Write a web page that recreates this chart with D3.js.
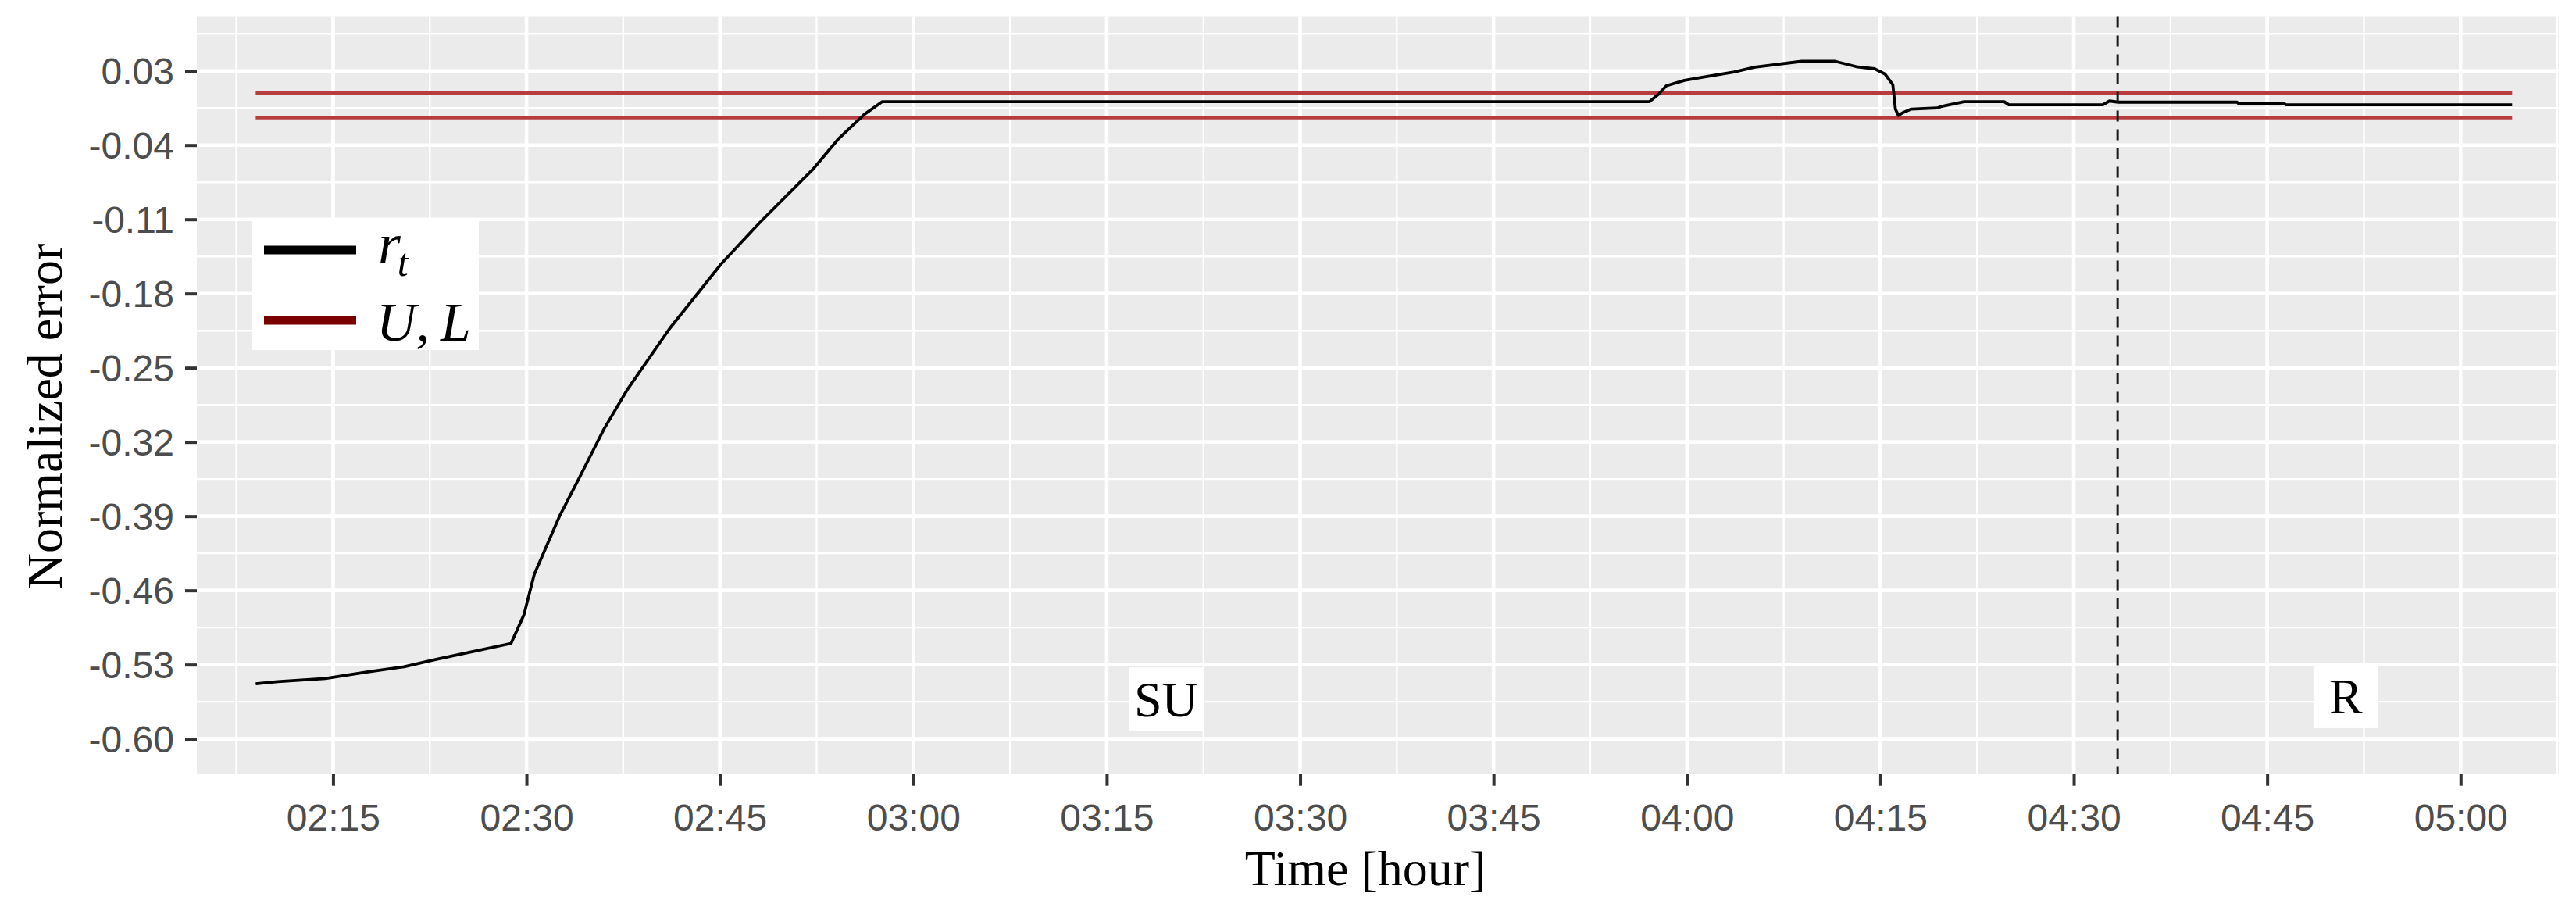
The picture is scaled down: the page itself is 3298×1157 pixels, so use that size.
<!DOCTYPE html>
<html>
<head>
<meta charset="utf-8">
<script src="https://cdn.jsdelivr.net/npm/d3@7"></script>
<style>
  html, body { margin: 0; padding: 0; background: #ffffff; }
  svg { display: block; }
</style>
</head>
<body>
<svg id="chart" width="3298" height="1157"></svg>
<script>
// ---------------- data ----------------
const xTickLabels = ["02:15","02:30","02:45","03:00","03:15","03:30","03:45","04:00","04:15","04:30","04:45","05:00"];
const yTickValues = [0.03, -0.04, -0.11, -0.18, -0.25, -0.32, -0.39, -0.46, -0.53, -0.60];

const rtTime = ["02:09:00","02:10:42","02:14:24","02:17:36","02:20:30","02:23:00","02:25:42","02:28:48",
  "02:29:48","02:30:36","02:32:36","02:34:00","02:36:00","02:37:48","02:41:06","02:45:06","02:48:06",
  "02:52:12","02:54:12","02:56:12","02:57:36","03:57:06","03:57:48","03:58:24","03:59:48","04:01:12",
  "04:03:39","04:05:16","04:06:53","04:08:54","04:11:30","04:13:08","04:14:33","04:15:22","04:15:58",
  "04:16:10","04:16:24","04:16:48","04:17:24","04:19:24","04:19:46","04:21:30","04:24:36","04:24:58",
  "04:32:15","04:32:46","04:33:27","04:42:40","04:42:47","04:46:18","04:46:30","05:04:00"];
const rtValue = [-0.548,-0.546,-0.543,-0.537,-0.532,-0.525,-0.518,-0.510,
  -0.483,-0.445,-0.389,-0.356,-0.308,-0.271,-0.213,-0.152,-0.113,
  -0.063,-0.034,-0.011,0.001,0.001,0.008,0.016,0.021,0.024,
  0.029,0.0335,0.036,0.039,0.039,0.034,0.032,0.027,0.017,
  -0.006,-0.012,-0.009,-0.006,-0.005,-0.0034,0.001,0.001,-0.002,
  -0.002,0.0016,0.0005,0.0005,-0.001,-0.001,-0.002,-0.002];

const boundTime = ["02:09:00", "05:04:00"];
const upperBound = 0.009;
const lowerBound = -0.014;

const changeTime = "04:33:24";
const regionLabels = ["SU", "R"];
const regionTime = ["03:19:36", "04:51:06"];
const regionValue = [-0.5625, -0.560];

const legendLabels = ["r", "U, L"];

// ---------------- scales ----------------
const parseT = d3.timeParse("%H:%M:%S");
const parseHM = d3.timeParse("%H:%M");
const svg = d3.select("#chart");
const W = 3298, H = 1157;
const panel = {left: 252, right: 3276, top: 21.5, bottom: 990.7};

const x = d3.scaleTime()
  .domain([parseT("02:04:26"), parseT("05:07:37")])
  .range([panel.left, panel.right]);
const y = d3.scaleLinear()
  .domain([-0.6332, 0.081])
  .range([panel.bottom, panel.top]);

svg.append("rect").attr("width", W).attr("height", H).attr("fill", "#ffffff");

// panel
svg.append("rect")
  .attr("x", panel.left).attr("y", panel.top)
  .attr("width", panel.right - panel.left).attr("height", panel.bottom - panel.top)
  .attr("fill", "#EBEBEB");

const xMajor = xTickLabels.map(parseHM);
const halfStep = 7.5 * 60 * 1000;
const xMinor = xMajor.map(d => new Date(d.getTime() - halfStep));
xMinor.push(new Date(xMajor[xMajor.length - 1].getTime() + halfStep));

const yStep = yTickValues[0] - yTickValues[1];
const yMinor = yTickValues.map(v => v + yStep / 2);
yMinor.push(yTickValues[yTickValues.length - 1] - yStep / 2);

const grid = svg.append("g");
const inX = d => x(d) >= panel.left - 0.5 && x(d) <= panel.right + 0.5;
const inY = v => y(v) >= panel.top - 0.5 && y(v) <= panel.bottom + 0.5;

grid.selectAll(".ymin").data(yMinor.filter(inY)).join("line")
  .attr("x1", panel.left).attr("x2", panel.right)
  .attr("y1", d => y(d)).attr("y2", d => y(d))
  .attr("stroke", "#ffffff").attr("stroke-width", 2.4);
grid.selectAll(".xmin").data(xMinor.filter(inX)).join("line")
  .attr("y1", panel.top).attr("y2", panel.bottom)
  .attr("x1", d => x(d)).attr("x2", d => x(d))
  .attr("stroke", "#ffffff").attr("stroke-width", 2.4);
grid.selectAll(".ymaj").data(yTickValues).join("line")
  .attr("x1", panel.left).attr("x2", panel.right)
  .attr("y1", d => y(d)).attr("y2", d => y(d))
  .attr("stroke", "#ffffff").attr("stroke-width", 4.6);
grid.selectAll(".xmaj").data(xMajor).join("line")
  .attr("y1", panel.top).attr("y2", panel.bottom)
  .attr("x1", d => x(d)).attr("x2", d => x(d))
  .attr("stroke", "#ffffff").attr("stroke-width", 4.6);

// bounds
const bT = boundTime.map(parseT);
[upperBound, lowerBound].forEach(v => {
  svg.append("line")
    .attr("x1", x(bT[0])).attr("x2", x(bT[1]))
    .attr("y1", y(v)).attr("y2", y(v))
    .attr("stroke", "#B83C3E").attr("stroke-width", 4.5);
});

// rt line
const rtData = rtTime.map((t, i) => ({t: parseT(t), v: rtValue[i]}));
svg.append("path")
  .datum(rtData)
  .attr("d", d3.line().x(d => x(d.t)).y(d => y(d.v)))
  .attr("fill", "none").attr("stroke", "#000000").attr("stroke-width", 3.8)
  .attr("stroke-linejoin", "round");

// vertical dashed line
svg.append("line")
  .attr("x1", x(parseT(changeTime))).attr("x2", x(parseT(changeTime)))
  .attr("y1", panel.top).attr("y2", panel.bottom)
  .attr("stroke", "#1a1a1a").attr("stroke-width", 3)
  .attr("stroke-dasharray", "14,10");

// region labels
regionLabels.forEach((lab, i) => {
  const g = svg.append("g");
  const cx = x(parseT(regionTime[i])), cy = y(regionValue[i]);
  const rect = g.append("rect").attr("fill", "#ffffff");
  const txt = g.append("text")
    .attr("x", cx).attr("y", cy + 22)
    .attr("text-anchor", "middle")
    .style("font-family", "'Liberation Serif', 'Times New Roman', serif")
    .style("font-size", "64px").attr("fill", "#000")
    .text(lab);
  const bb = txt.node().getBBox();
  const bw = Math.max(bb.width + 14, 83), bh = 81;
  rect.attr("x", cx - bw / 2).attr("y", cy - bh / 2).attr("width", bw).attr("height", bh);
});

// axes
const yAxis = d3.axisLeft(y).tickValues(yTickValues).tickFormat(d => d.toFixed(2))
  .tickSize(15).tickPadding(14);
const gy = svg.append("g").attr("transform", `translate(${panel.left},0)`).call(yAxis);
gy.select(".domain").remove();
gy.selectAll(".tick line").attr("stroke", "#333333").attr("stroke-width", 4);
gy.selectAll(".tick text")
  .attr("fill", "#4D4D4D")
  .attr("dy", "0.36em")
  .style("font-family", "'Liberation Sans', Arial, sans-serif")
  .style("font-size", "48px");

const xAxis = d3.axisBottom(x).tickValues(xMajor).tickFormat(d3.timeFormat("%H:%M"))
  .tickSize(15);
const gx = svg.append("g").attr("transform", `translate(0,${panel.bottom})`).call(xAxis);
gx.select(".domain").remove();
gx.selectAll(".tick line").attr("stroke", "#333333").attr("stroke-width", 4);
gx.selectAll(".tick text")
  .attr("fill", "#4D4D4D")
  .attr("y", 72).attr("dy", 0)
  .style("font-family", "'Liberation Sans', Arial, sans-serif")
  .style("font-size", "48px");

// titles
svg.append("text")
  .attr("x", (panel.left + panel.right) / 2 - 16).attr("y", 1133)
  .attr("text-anchor", "middle")
  .style("font-family", "'Liberation Serif', 'Times New Roman', serif")
  .style("font-size", "64px").attr("fill", "#000")
  .text("Time [hour]");
svg.append("text")
  .attr("transform", "translate(79,533) rotate(-90)")
  .attr("text-anchor", "middle")
  .style("font-family", "'Liberation Serif', 'Times New Roman', serif")
  .style("font-size", "64px").attr("fill", "#000")
  .text("Normalized error");

// legend
const lg = svg.append("g");
lg.append("rect").attr("x", 322).attr("y", 282).attr("width", 291).attr("height", 166).attr("fill", "#ffffff");
lg.append("line").attr("x1", 338).attr("x2", 456).attr("y1", 320).attr("y2", 320)
  .attr("stroke", "#000000").attr("stroke-width", 11);
lg.append("line").attr("x1", 338).attr("x2", 456).attr("y1", 410).attr("y2", 410)
  .attr("stroke", "#7A0000").attr("stroke-width", 11);
const t1 = lg.append("text").attr("x", 484).attr("y", 337)
  .style("font-family", "'Liberation Serif', 'Times New Roman', serif")
  .style("font-style", "italic").style("font-size", "74px").attr("fill", "#000");
t1.append("tspan").text(legendLabels[0]);
t1.append("tspan").attr("dx", -4).attr("dy", 16).style("font-size", "50px").text("t");
lg.append("text").attr("x", 482).attr("y", 436)
  .style("font-family", "'Liberation Serif', 'Times New Roman', serif")
  .style("font-style", "italic").style("font-size", "70px").attr("fill", "#000")
  .text(legendLabels[1].replace(" ", "\u2009"));
</script>
</body>
</html>
